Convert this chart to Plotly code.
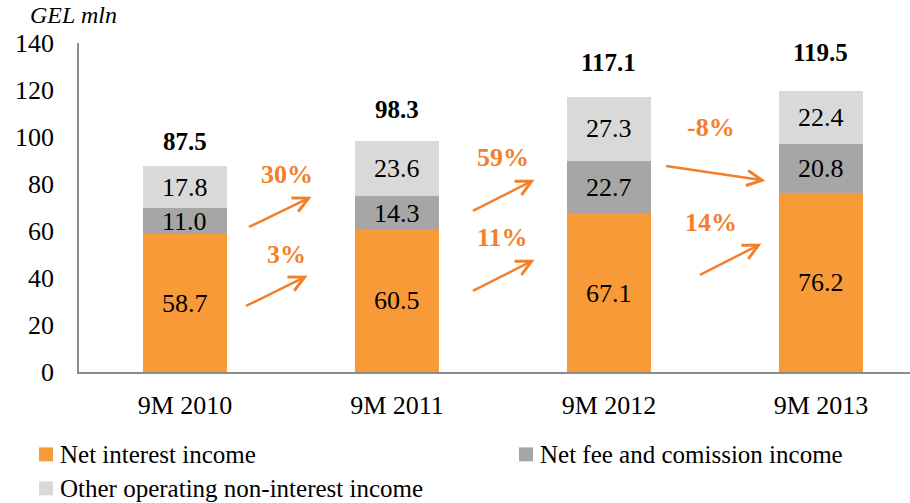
import plotly.graph_objects as go

# ---- data ----
categories = ["9M 2010", "9M 2011", "9M 2012", "9M 2013"]
net_interest = [58.7, 60.5, 67.1, 76.2]
net_fee = [11.0, 14.3, 22.7, 20.8]
other_income = [17.8, 23.6, 27.3, 22.4]
totals = [87.5, 98.3, 117.1, 119.5]
growth_fee = ["30%", "59%", "-8%"]
growth_interest = ["3%", "11%", "14%"]
y_ticks = [0, 20, 40, 60, 80, 100, 120, 140]
series_names = ["Net interest income", "Net fee and comission income",
                "Other operating non-interest income"]

# ---- style ----
FONT = "Liberation Serif"
C_ORANGE = "#F99A38"
C_GRAY = "#A6A6A6"
C_LIGHT = "#D9D9D9"
C_ARROW = "#F47F2A"
FS = 26
W, H = 910, 503
ML, MR, MT, MB = 79, 0, 43, 130.5
PW, PH = W - ML - MR, H - MT - MB


def px_x(p):  # page pixel -> paper x
    return (p - ML) / PW


def px_y(p):  # page pixel -> paper y
    return (H - MB - p) / PH


fig = go.Figure()
colors = [C_ORANGE, C_GRAY, C_LIGHT]
series_vals = [net_interest, net_fee, other_income]
for name, vals, col in zip(series_names, series_vals, colors):
    fig.add_trace(go.Bar(x=list(range(len(categories))), y=vals, name=name,
                         marker=dict(color=col, line=dict(width=0)),
                         width=0.4, hoverinfo="skip", showlegend=False))

annotations = []
shapes = []
# segment value labels
base = [0.0] * len(categories)
for vals in series_vals:
    for i, v in enumerate(vals):
        annotations.append(dict(x=i, y=base[i] + v / 2, text=f"{v:.1f}", showarrow=False,
                                font=dict(family=FONT, size=FS, color="black"),
                                xref="x", yref="y"))
        base[i] += v

# totals
total_shift = [25, 32, 34, 39]
for i, t in enumerate(totals):
    annotations.append(dict(x=i, y=t, text=f"<b>{t:.1f}</b>", showarrow=False,
                            yshift=total_shift[i], yanchor="middle",
                            font=dict(family=FONT, size=25, color="black")))

# growth arrows (tail -> head, in axis units), label position
fee_arrows = [((0.295, 61.4), (0.597, 74.6), (0.479, 83.9)),
              ((1.351, 68.2), (1.649, 81.8), (1.498, 91.1)),
              ((2.262, 87.8), (2.738, 81.4), (2.483, 103.9))]
int_arrows = [((0.281, 27.8), (0.578, 41.0), (0.479, 49.9)),
              ((1.351, 34.2), (1.649, 47.8), (1.498, 57.1)),
              ((2.422, 41.0), (2.719, 54.6), (2.483, 63.5))]
for labels, geo in ((growth_fee, fee_arrows), (growth_interest, int_arrows)):
    for lab, (tail, head, lp) in zip(labels, geo):
        annotations.append(dict(x=head[0], y=head[1], ax=tail[0], ay=tail[1],
                                xref="x", yref="y", axref="x", ayref="y",
                                text="", showarrow=True, arrowhead=5, arrowsize=1.2,
                                arrowwidth=2.5, arrowcolor=C_ARROW, standoff=0))
        annotations.append(dict(x=lp[0], y=lp[1], text=f"<b>{lab}</b>", showarrow=False,
                                font=dict(family=FONT, size=FS, color=C_ARROW)))

# axis unit title
annotations.append(dict(x=px_x(28), y=px_y(15), xref="paper", yref="paper",
                        text="<i>GEL mln</i>", showarrow=False, xanchor="left",
                        yanchor="middle", font=dict(family=FONT, size=24, color="black")))

# legend (drawn in paper space)
legend_pos = [(39, 455), (519, 455), (39, 489)]
for name, col, (lx, ly) in zip(series_names, colors, legend_pos):
    shapes.append(dict(type="rect", xref="paper", yref="paper",
                       x0=px_x(lx), x1=px_x(lx + 14), y0=px_y(ly + 7), y1=px_y(ly - 7),
                       fillcolor=col, line=dict(width=0)))
    annotations.append(dict(x=px_x(lx + 19), y=px_y(ly), xref="paper", yref="paper",
                            text=name, showarrow=False, xanchor="left", yanchor="middle",
                            font=dict(family=FONT, size=25, color="black")))

fig.update_layout(
    width=W, height=H,
    margin=dict(l=ML, r=MR, t=MT, b=MB, autoexpand=False),
    paper_bgcolor="white", plot_bgcolor="white",
    barmode="stack",
    font=dict(family=FONT, size=FS, color="black"),
    xaxis=dict(range=[-0.5, 3.42], tickmode="array", tickvals=list(range(len(categories))),
               ticktext=categories, showline=True, linecolor="#8C8C8C", linewidth=1.5,
               ticks="", showgrid=False, zeroline=False, ticklabelstandoff=9,
               automargin=False, tickfont=dict(family=FONT, size=FS, color="black")),
    yaxis=dict(range=[0, 140], tickvals=y_ticks, showline=True, linecolor="#8C8C8C",
               linewidth=1.5, ticks="", showgrid=False, zeroline=False,
               ticklabelstandoff=18, automargin=False,
               tickfont=dict(family=FONT, size=FS, color="black")),
    annotations=annotations,
    shapes=shapes,
    showlegend=False,
)

# remove the browser's default page margin so the figure fills the window exactly
fig.write_html("out.html", config={"displayModeBar": False},
               post_script="document.body.style.margin='0';")
